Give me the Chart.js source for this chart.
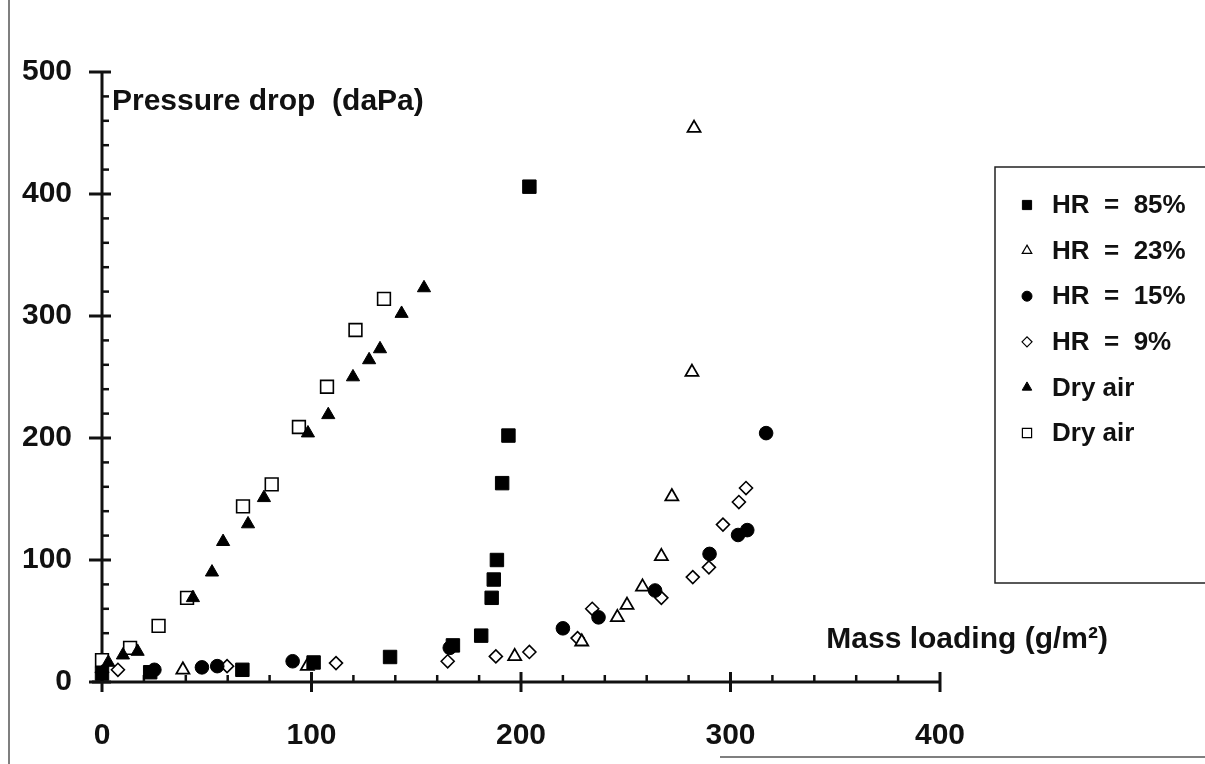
<!DOCTYPE html>
<html lang="en">
<head>
<meta charset="UTF-8">
<title>Pressure drop vs mass loading</title>
<script src="https://cdn.jsdelivr.net/npm/chart.js"></script>
<style>
  html, body { margin: 0; padding: 0; background: #fff; }
  #wrap { position: relative; width: 1205px; height: 764px; }
</style>
</head>
<body>
<div id="wrap"><canvas id="grafico"></canvas></div>
<script>
// values: mass loading (g/m2) / pressure drop (daPa)
const hr85X = [0, 23, 67, 101, 137.5, 167.5, 181, 186, 187, 188.5, 191, 194, 204];
const hr85Y = [7, 8, 10, 16, 20.5, 30, 38, 69, 84, 100, 163, 202, 406];

const hr23X = [38.6, 98, 197, 229, 246, 250.6, 258, 267, 272, 281.6, 282.6];
const hr23Y = [10, 13, 21, 33, 53, 63, 78, 103, 152, 254, 454];

const hr15X = [25, 47.7, 55, 91, 166, 220, 237, 264, 290, 303.6, 308, 317];
const hr15Y = [10, 12, 13, 17, 28, 44, 53, 75, 105, 120.5, 124.5, 204];

const hr9X = [0, 7.6, 59.7, 111.7, 165, 188, 204, 227, 234, 267, 282, 289.7, 296.4, 304, 307.4];
const hr9Y = [8, 10, 13, 15.5, 17, 21, 24.6, 36, 60, 69, 86, 94, 129, 147.5, 159];

const secoTriX = [3, 10, 17, 43.4, 52.5, 57.8, 69.7, 77.3, 98.3, 108, 119.8, 127.5, 132.7, 143, 153.7];
const secoTriY = [16, 22, 25, 69, 90, 115, 129.5, 151, 204, 219, 250, 264, 273, 302, 323];

const secoQuadX = [0, 13.4, 27, 40.6, 67.3, 81, 94, 107.4, 121, 134.6];
const secoQuadY = [18, 28, 46, 69, 144, 162, 209, 242, 288.5, 314];

const rotulos = ['HR  =  85%', 'HR  =  23%', 'HR  =  15%', 'HR  =  9%', 'Dry air', 'Dry air'];
const xTicks = [0, 100, 200, 300, 400];
const yTicks = [0, 100, 200, 300, 400, 500];

function pares(xs, ys) {
    return xs.map(function (v, i) { return { x: v, y: ys[i] } })
}

const FONTE = 'bold 30px "Liberation Sans", Arial, sans-serif'
const FONTE_LEG = 'bold 26px "Liberation Sans", Arial, sans-serif'

let dados = {
    datasets: [
        { label: rotulos[0], data: pares(hr85X, hr85Y), pointStyle: 'rect', pointRadius: 9.5, backgroundColor: '#000', borderColor: '#000', borderWidth: 1, legR: 6.5 },
        { label: rotulos[1], data: pares(hr23X, hr23Y), pointStyle: 'triangle', pointRadius: 7.5, backgroundColor: '#fff', borderColor: '#000', borderWidth: 1.8, legR: 5.5 },
        { label: rotulos[2], data: pares(hr15X, hr15Y), pointStyle: 'circle', pointRadius: 6.8, backgroundColor: '#000', borderColor: '#000', borderWidth: 1, legR: 5 },
        { label: rotulos[3], data: pares(hr9X, hr9Y), pointStyle: 'rectRot', pointRadius: 6.5, backgroundColor: '#fff', borderColor: '#000', borderWidth: 1.6, legR: 5 },
        { label: rotulos[4], data: pares(secoTriX, secoTriY), pointStyle: 'triangle', pointRadius: 7.6, backgroundColor: '#000', borderColor: '#000', borderWidth: 1, legR: 5.5 },
        { label: rotulos[5], data: pares(secoQuadX, secoQuadY), pointStyle: 'rect', pointRadius: 9, backgroundColor: '#fff', borderColor: '#000', borderWidth: 1.6, legR: 6.5 }
    ]
}
dados.datasets.forEach(function (d) { d.clip = false; d.pointHoverRadius = d.pointRadius })

function linha(ctx, x1, y1, x2, y2) {
    ctx.beginPath(); ctx.moveTo(x1, y1); ctx.lineTo(x2, y2); ctx.stroke()
}

// eixos no estilo do original (ticks cruzados), desenhados antes dos pontos
const eixos = {
    id: 'eixos',
    beforeDatasetsDraw(chart) {
        const ctx = chart.ctx, sx = chart.scales.x, sy = chart.scales.y
        const x0 = sx.getPixelForValue(0), y0 = sy.getPixelForValue(0)
        ctx.save()
        ctx.strokeStyle = '#111'
        ctx.lineWidth = 3
        linha(ctx, x0, y0 + 1, x0, sy.getPixelForValue(500))
        linha(ctx, x0 - 10, y0, sx.getPixelForValue(400), y0)
        for (let v = 0; v <= 500; v += 20) {
            const p = sy.getPixelForValue(v)
            if (v % 100 === 0) { ctx.lineWidth = 3; linha(ctx, x0 - 13, p, x0 + 9, p) }
            else { ctx.lineWidth = 2.5; linha(ctx, x0, p, x0 + 7, p) }
        }
        for (let v = 0; v <= 400; v += 20) {
            const p = sx.getPixelForValue(v)
            if (v % 100 === 0) { ctx.lineWidth = 3; linha(ctx, p, y0 - 10, p, y0 + 10) }
            else { ctx.lineWidth = 2.5; linha(ctx, p, y0 - 7, p, y0) }
        }
        ctx.restore()
    },
    afterDraw(chart) {
        const ctx = chart.ctx
        ctx.save()
        ctx.fillStyle = '#111'
        ctx.font = FONTE
        ctx.textBaseline = 'middle'
        ctx.textAlign = 'left'
        ctx.fillText('Pressure drop  (daPa)', 112, 102)
        ctx.textAlign = 'right'
        ctx.fillText('Mass loading (g/m\u00B2)', 1108, 640)

        // moldura da folha digitalizada
        ctx.strokeStyle = '#555'
        ctx.lineWidth = 1.5
        linha(ctx, 9, 0, 9, 764)
        linha(ctx, 720, 757, 1205, 757)

        // legenda
        ctx.strokeStyle = '#222'
        ctx.lineWidth = 1.5
        ctx.strokeRect(995, 167, 230, 416)
        ctx.font = FONTE_LEG
        ctx.textAlign = 'left'
        chart.data.datasets.forEach(function (d, i) {
            const yy = 205 + i * 45.6
            ctx.fillStyle = d.backgroundColor
            ctx.strokeStyle = d.borderColor
            const bw = d.backgroundColor === '#fff' ? 1.2 : 1
            ctx.lineWidth = bw
            Chart.helpers.drawPoint(ctx, { pointStyle: d.pointStyle, radius: d.legR, rotation: 0, borderWidth: bw }, 1027, yy)
            ctx.fillStyle = '#111'
            ctx.fillText(d.label, 1052, yy + 1)
        })
        ctx.restore()
    }
}

const config = {
    type: 'scatter',
    data: dados,
    options: {
        responsive: false,
        animation: false,
        events: [],
        layout: { padding: { left: 0, top: 72, right: 265, bottom: 0 } },
        plugins: { legend: { display: false }, tooltip: { enabled: false } },
        scales: {
            x: {
                type: 'linear', min: 0, max: 400,
                afterBuildTicks: function (s) { s.ticks = xTicks.map(function (v) { return { value: v } }) },
                afterFit: function (s) { s.height = 82 },
                grid: { display: false, drawTicks: false },
                border: { display: false },
                ticks: { color: '#111', font: { family: '"Liberation Sans", Arial, sans-serif', size: 30, weight: 'bold' }, padding: 36, maxRotation: 0 }
            },
            y: {
                type: 'linear', min: 0, max: 500,
                afterBuildTicks: function (s) { s.ticks = yTicks.map(function (v) { return { value: v } }) },
                afterFit: function (s) { s.width = 102 },
                grid: { display: false, drawTicks: false },
                border: { display: false },
                ticks: { color: '#111', font: { family: '"Liberation Sans", Arial, sans-serif', size: 30, weight: 'bold' }, padding: 30 }
            }
        }
    },
    plugins: [eixos]
}

const cv = document.getElementById('grafico')
cv.width = 1205
cv.height = 764
cv.style.width = '1205px'
cv.style.height = '764px'
let myChart = new Chart(cv, config)
</script>
</body>
</html>
